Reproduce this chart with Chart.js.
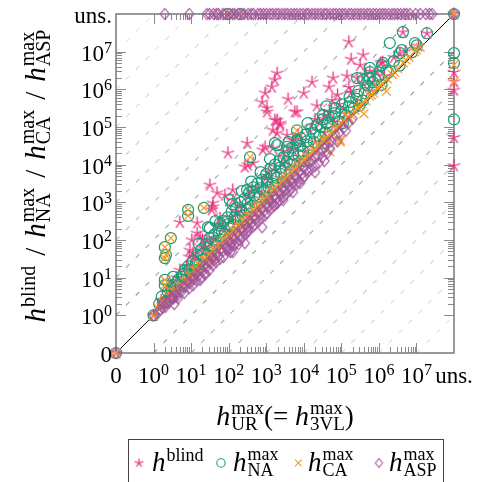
<!DOCTYPE html>
<html><head><meta charset="utf-8">
<script src="https://cdn.jsdelivr.net/npm/chart.js@4/dist/chart.umd.min.js"></script>
<style>html,body{margin:0;padding:0;background:#fff;}#wrap{width:496px;height:482px;}</style>
</head><body><div id="wrap"><canvas id="c" width="496" height="482"></canvas></div>
<script>
// Axis positions are log10 exponents; Z marks h = 0, U marks "uns." (unsolved)
const Z = -1;
const U = 8;
const tickPos  = [Z, 0, 1, 2, 3, 4, 5, 6, 7, U];
const tickBase = ['0','10','10','10','10','10','10','10','10','uns.'];
const tickExp  = ['', '0','1','2','3','4','5','6','7',''];
const refOffsets = [1,2,3,4,5,6,7,8,-1,-2,-3,-4,-5,-6,-7,-8];

// h^blind (y) vs h^max_UR (x), exponents
const blindPts = [
 [Z,Z],[0,0],[U,U],[0.25,0.33],[0.49,0.49],
 [U,6.45],[U,6.2],[U,5.98],[U,4.72],[U,3.97],
 [0.2,0.4],[0.35,0.6],[0.5,0.75],[0.62,1.0],[0.75,0.95],[0.88,1.3],[1.0,1.2],[1.12,1.55],[1.25,1.45],[1.37,1.8],
 [1.48,1.7],[1.6,2.05],[1.72,1.95],[1.83,2.35],[1.95,2.2],[2.07,2.6],[2.18,2.45],[2.3,2.9],[2.42,2.7],[2.53,3.15],
 [2.65,2.95],[2.76,3.4],[2.88,3.2],[3.0,3.65],[3.11,3.4],[3.23,3.95],[3.35,3.65],[3.47,4.15],[3.58,3.9],[3.7,4.4],
 [3.82,4.1],[3.93,4.65],[4.05,4.35],[4.17,4.9],[4.3,4.6],[4.42,5.1],[4.55,4.85],[4.68,5.4],[4.82,5.05],[4.95,5.6],
 [5.1,5.35],[5.25,5.9],[5.4,5.6],[5.58,6.15],[5.75,5.95],[5.95,6.45],[6.15,6.35],[6.4,6.85],[6.7,7.0],[7.05,7.15],
 [0.57,0.61],[1.06,1.13],[1.58,1.62],[2.03,2.11],[2.56,2.6],[3.07,3.14],[3.53,3.6],[4.06,4.11],[4.57,4.62],[5.03,5.12],
 [0.4,0.8],[0.7,1.2],[0.95,1.55],[1.3,2.0],[1.75,2.4],[2.2,2.75],[2.6,3.3],[3.05,3.8],[3.45,4.35],[3.85,4.8],
 [4.3,5.2],[4.75,5.7],[5.2,6.05],[5.65,6.4],[6.05,6.7],
 [1.98,4.31],[2.49,4.57],[2.51,3.99],[2.43,3.94],[2.91,4.39],[1.5,3.46],[1.69,3.25],[1.58,2.98],[1.55,2.8],[2.11,3.33],
 [2.11,3.06],[1.9,3.19],[0.7,2.47],[1.16,2.18],[1.24,2.08],[1.02,2.0],[1.42,2.0],[0.97,1.73],[1.16,2.45],[3.18,4.44],
 [1.05,1.65],[1.29,1.79],[1.58,2.88],[1.77,2.58],
 [3.29,6.43],[3.23,6.25],[3.15,6.06],[2.97,5.9],[2.89,5.66],[3.02,5.5],[3.29,5.18],[3.58,5.74],[3.37,5.1],[3.18,4.92],
 [2.97,4.47],[3.82,5.4],[3.02,5.4],[3.23,5.18],[3.37,5.05],[2.65,4.04],[3.29,4.84],[3.55,4.78],[3.71,4.65],
 [5.2,7.26],[5.26,6.8],[5.58,6.91],[5.5,6.64],[5.15,6.35],[4.78,6.3],[4.67,6.06],[4.22,6.19],[4.0,5.9],[3.76,5.4],
 [4.35,5.56],[6.64,7.52],[7.28,7.49],[6.1,6.72],[5.76,6.48],[5.42,6.3],[6.56,6.96],[5.84,6.19],[4.55,5.3],[4.9,5.85]
];

// h^max_NA (y) vs h^max_UR (x)
const naPts = [
 [Z,Z],[0,0],[U,U],[0.25,0.33],[0.49,0.49],
 [U,6.96],[U,6.7],[U,5.2],[1.98,U],[2.3,U],
 [0.15,0.3],[0.22,0.5],[0.3,0.35],[0.38,0.62],[0.45,0.5],[0.52,0.8],[0.58,0.65],[0.66,0.95],[0.72,0.8],[0.8,1.1],
 [0.86,0.95],[0.92,1.3],[0.98,1.1],[1.05,1.45],[1.1,1.2],[1.16,1.6],[1.22,1.35],[1.28,1.75],[1.33,1.5],[1.4,1.9],
 [1.45,1.6],[1.5,2.05],[1.56,1.75],[1.62,2.15],[1.68,1.85],[1.74,2.3],[1.8,2.0],[1.85,2.5],[1.9,2.15],[1.97,2.6],
 [2.02,2.3],[2.08,2.75],[2.14,2.4],[2.2,2.85],[2.25,2.55],[2.31,3.0],[2.37,2.65],[2.43,3.1],[2.48,2.8],[2.54,3.25],
 [2.6,2.9],[2.66,3.4],[2.71,3.0],[2.77,3.5],[2.83,3.15],[2.89,3.6],[2.94,3.3],[3.0,3.75],[3.06,3.4],[3.12,3.9],
 [3.17,3.5],[3.23,4.0],[3.29,3.65],[3.35,4.1],[3.4,3.75],[3.46,4.2],[3.52,3.9],[3.58,4.35],[3.63,4.0],[3.69,4.45],
 [3.75,4.1],[3.81,4.6],[3.86,4.25],[3.92,4.7],[3.98,4.35],[4.05,4.8],[4.12,4.45],[4.2,4.95],[4.27,4.6],[4.35,5.05],
 [4.42,4.75],[4.5,5.2],[4.58,4.85],[4.66,5.3],[4.75,5.0],[4.84,5.5],[4.93,5.15],[5.02,5.6],[5.12,5.3],[5.22,5.8],
 [5.33,5.5],[5.45,5.95],[5.57,5.7],[5.7,6.1],[5.85,6.0],[6.0,6.35],[6.2,6.5],[6.4,6.75],
 [0.47,0.53],[1.02,1.06],[1.53,1.57],[2.04,2.09],[2.46,2.52],[3.03,3.12],[3.48,3.55],[4.02,4.09],[4.53,4.57],[5.04,5.1],
 [5.48,5.57],[6.07,6.12],[6.55,6.63],[6.88,6.98],
 [0.62,0.88],[0.76,1.02],[0.95,1.22],[1.13,1.4],[1.3,1.62],[1.47,1.82],[1.64,1.98],[1.82,2.22],[1.99,2.42],[2.16,2.6],
 [2.33,2.78],[2.5,2.97],[2.68,3.18],[2.85,3.38],[3.02,3.52],[3.2,3.72],[3.37,3.92],[3.55,4.08],[3.72,4.28],[3.9,4.5],
 [4.08,4.62],[4.26,4.84],[4.45,5.0],[4.63,5.12],[4.82,5.28],[5.0,5.4],[5.2,5.55],[5.4,5.75],[5.62,5.9],[5.9,6.25],
 [6.25,6.45],[1.2,1.9],[1.65,2.5],[2.1,2.95],[2.6,3.55],[3.1,4.15],[3.6,4.6],[4.1,5.1],[4.6,5.55],[2.35,3.3],[2.85,3.8],
 [0.3,1.81],[0.3,1.52],[0.33,1.6],[0.46,2.05],[0.3,0.94],[0.3,0.8],[0.92,2.8],[0.92,2.64],[1.34,2.85],[2.57,4.2],
 [0.52,1.02],[0.84,1.2],[1.45,2.34],[1.77,2.45],[3.23,4.57],[3.82,4.91],[2.03,3.06],[1.5,2.32],[2.49,3.33],[3.02,3.6],
 [3.29,4.52],[3.55,4.47],[3.82,4.65],
 [6.64,7.52],[7.28,7.49],[6.29,7.23],[7.01,7.17],[6.56,6.96],[6.11,6.7],[5.76,6.57],[5.42,6.3],[5.76,6.3],[4.51,5.32],
 [4.83,5.37],[4.62,5.1],[5.76,6.46],[6.08,6.64],[5.84,6.19],[5.58,6.25],[6.61,7.04],[6.96,7.23],[5.42,5.85],[5.23,5.66]
];

// h^max_CA (y) vs h^max_UR (x)
const caPts = [
 [Z,Z],[0,0],[U,U],[0.25,0.33],[0.49,0.49],
 [U,6.65],[U,6.2],[1.98,U],[2.3,U],
 [0.13,0.18],[0.2,0.22],[0.27,0.35],[0.34,0.38],[0.41,0.5],[0.48,0.52],[0.55,0.62],[0.61,0.66],[0.68,0.78],[0.75,0.8],
 [0.82,0.9],[0.88,0.95],[0.95,1.06],[1.01,1.08],[1.08,1.2],[1.14,1.2],[1.21,1.33],[1.27,1.35],[1.34,1.45],[1.4,1.47],
 [1.47,1.6],[1.53,1.6],[1.6,1.73],[1.66,1.72],[1.73,1.86],[1.79,1.85],[1.86,1.98],[1.92,1.98],[1.99,2.1],[2.05,2.12],
 [2.12,2.25],[2.18,2.24],[2.25,2.37],[2.31,2.38],[2.38,2.5],[2.44,2.5],[2.51,2.62],[2.57,2.64],[2.64,2.76],[2.7,2.77],
 [2.77,2.9],[2.83,2.9],[2.9,3.02],[2.96,3.04],[3.03,3.15],[3.09,3.16],[3.16,3.28],[3.22,3.3],[3.29,3.4],[3.35,3.43],
 [3.42,3.55],[3.48,3.56],[3.55,3.67],[3.61,3.7],[3.68,3.8],[3.74,3.83],[3.81,3.93],[3.87,3.96],[3.94,4.06],[4.0,4.1],
 [4.08,4.2],[4.15,4.22],[4.23,4.35],[4.3,4.36],[4.38,4.5],[4.45,4.52],[4.53,4.65],[4.6,4.66],[4.68,4.8],[4.76,4.82],
 [4.84,4.95],[4.92,4.98],[5.0,5.1],[5.09,5.14],[5.18,5.28],[5.27,5.3],[5.36,5.45],[5.45,5.5],[5.55,5.62],[5.65,5.7],
 [5.75,5.82],[5.86,5.9],[5.97,6.05],[6.1,6.15],[6.22,6.28],[6.35,6.4],[6.5,6.55],[6.65,6.7],[6.8,6.85],[6.95,7.0],[7.1,7.12],
 [0.58,0.6],[0.9,0.9],[1.17,1.25],[1.44,1.5],[1.7,1.78],[1.96,2.03],[2.22,2.3],[2.48,2.55],[2.74,2.82],[3.0,3.07],
 [3.26,3.34],[3.52,3.6],[3.78,3.86],[4.04,4.13],[4.33,4.4],[4.62,4.7],[4.9,5.0],[5.2,5.22],[5.5,5.55],[5.8,5.85],
 [6.05,6.1],[6.42,6.45],[6.72,6.78],[7.0,7.05],
 [4.97,4.65],[4.7,4.34],[4.97,4.6],[5.6,5.35],[6.2,5.95],
 [0.3,1.81],[0.3,1.52],[0.33,1.6],[0.46,2.05],[0.3,0.94],[0.3,0.8],[0.92,2.8],[0.92,2.64],[1.34,2.85],[2.57,4.2],[3.82,4.91]
];

// h^max_ASP (y) vs h^max_UR (x)
const aspPts = [
 [Z,Z],[0,0],[U,U],[0.25,0.33],[0.49,0.49],
 [0.3,U],[0.95,U],[1.42,U],[1.49,U],[1.6,U],[1.68,U],[1.73,U],[1.85,U],[1.91,U],[2.02,U],[2.1,U],[2.16,U],[2.27,U],
 [2.35,U],[2.41,U],[2.52,U],[2.6,U],[2.66,U],[2.78,U],[2.85,U],[2.93,U],[3.01,U],[3.1,U],[3.17,U],[3.26,U],[3.33,U],
 [3.42,U],[3.5,U],[3.57,U],[3.66,U],[3.74,U],[3.81,U],[3.9,U],[3.98,U],[4.07,U],[4.13,U],[4.22,U],[4.3,U],[4.38,U],
 [4.46,U],[4.55,U],[4.61,U],[4.7,U],[4.79,U],[4.86,U],[4.95,U],[5.03,U],[5.1,U],[5.2,U],[5.27,U],[5.36,U],[5.44,U],
 [5.52,U],[5.6,U],[5.69,U],[5.76,U],[5.85,U],[5.93,U],[6.02,U],[6.1,U],[6.17,U],[6.26,U],[6.35,U],[6.42,U],[6.5,U],
 [6.58,U],[6.67,U],[6.74,U],[6.83,U],[6.98,U],[7.1,U],[7.25,U],[7.35,U],[7.42,U],
 [0.12,0.08],[0.18,0.15],[0.24,0.2],[0.31,0.22],[0.36,0.33],[0.42,0.35],[0.47,0.44],[0.53,0.45],[0.58,0.55],[0.63,0.52],
 [0.69,0.66],[0.74,0.63],[0.79,0.75],[0.86,0.77],[0.91,0.88],[0.97,0.86],[1.03,0.98],[1.08,0.96],[1.13,1.09],[1.19,1.05],
 [1.24,1.2],[1.3,1.18],[1.34,1.3],[1.41,1.27],[1.46,1.41],[1.52,1.4],[1.57,1.52],[1.62,1.47],[1.68,1.63],[1.73,1.58],
 [1.79,1.74],[1.84,1.7],[1.9,1.85],[1.95,1.8],[2.01,1.96],[2.06,1.9],[2.12,2.07],[2.17,2.01],[2.23,2.18],[2.28,2.12],
 [2.34,2.28],[2.39,2.22],[2.45,2.4],[2.5,2.33],[2.56,2.5],[2.61,2.45],[2.67,2.61],[2.72,2.55],[2.78,2.72],[2.83,2.66],
 [2.89,2.83],[2.94,2.77],[3.0,2.94],[3.05,2.88],[3.11,3.05],[3.16,2.98],[3.22,3.16],[3.27,3.1],[3.33,3.27],[3.38,3.2],
 [3.44,3.37],[3.49,3.31],[3.55,3.48],[3.6,3.42],[3.66,3.59],[3.71,3.52],[3.77,3.7],[3.82,3.63],[3.88,3.8],[3.94,3.74],
 [4.0,3.92],[4.07,3.86],[4.14,4.05],[4.22,4.1],[4.3,4.21],[4.38,4.25],[4.47,4.38],[4.55,4.45],[4.66,4.58],[4.74,4.62],
 [4.85,4.77],[4.95,4.85],[5.06,4.98],[5.18,5.1],[5.3,5.22],
 [0.55,0.3],[0.82,0.6],[1.05,0.8],[1.27,1.0],[1.48,1.2],[1.66,1.41],[1.86,1.55],[2.03,1.76],[2.2,1.92],[2.37,2.08],
 [2.53,2.26],[2.7,2.41],[2.86,2.58],[3.02,2.72],[3.19,2.9],[3.35,3.06],[3.52,3.21],[3.68,3.4],[3.85,3.55],[4.02,3.7],
 [4.2,3.88],[4.4,4.05],[4.62,4.3],
 [0.65,0.45],[0.95,0.72],[1.15,0.92],[1.37,1.12],[1.58,1.33],[1.77,1.5],[1.97,1.72],[2.14,1.87],[2.3,2.0],[2.47,2.17],
 [2.63,2.34],[2.8,2.5],[2.97,2.65],[3.13,2.83],[3.3,2.98],[3.46,3.14],[3.62,3.3],[3.8,3.47],[3.97,3.63],[4.12,3.82],
 [4.3,3.97],[4.5,4.2],[4.7,4.42],[4.9,4.62],[5.12,4.9],
 [1.24,0.94],[1.38,1.09],[1.98,1.79],[2.11,1.68],[2.26,1.89],[2.05,1.68],[2.43,1.92],[2.5,2.23],[2.89,2.34],[3.23,2.93],
 [3.45,3.06],[3.71,3.27],[3.9,3.51],[4.3,3.8],[4.55,4.1]
];

const COL_BLIND = '#e7297a', COL_NA = '#1b9e77', COL_CA = '#f59a23', COL_ASP = '#a2529a';

function mkStar(color, r, lw) {
  const s = Math.ceil(2 * r + 4), c = document.createElement('canvas');
  c.width = s; c.height = s;
  const g = c.getContext('2d'); g.strokeStyle = color; g.lineWidth = lw;
  g.beginPath();
  for (let k = 0; k < 5; k++) {
    const a = -Math.PI / 2 + k * 2 * Math.PI / 5;
    g.moveTo(s / 2, s / 2); g.lineTo(s / 2 + r * Math.cos(a), s / 2 + r * Math.sin(a));
  }
  g.stroke(); return c;
}
function mkDiamond(color, hw, hh, lw) {
  const w = Math.ceil(2 * hw + 3), h = Math.ceil(2 * hh + 3), c = document.createElement('canvas');
  c.width = w; c.height = h;
  const g = c.getContext('2d'); g.strokeStyle = color; g.lineWidth = lw;
  g.beginPath(); g.moveTo(w / 2, h / 2 - hh); g.lineTo(w / 2 + hw, h / 2); g.lineTo(w / 2, h / 2 + hh); g.lineTo(w / 2 - hw, h / 2); g.closePath();
  g.stroke(); return c;
}
const starImg = mkStar(COL_BLIND, 6.5, 1.25);
const diaImg = mkDiamond(COL_ASP, 4.6, 5.5, 1.15);
const starSmall = mkStar(COL_BLIND, 4.5, 1.1);
const diaSmall = mkDiamond(COL_ASP, 3.6, 4.5, 1.05);

const toXY = pts => pts.map(p => ({ x: p[0], y: p[1] }));
const datasets = [];
datasets.push({ label: 'h^max_ASP', data: toXY(aspPts), pointStyle: diaImg, pointRadius: 5, borderColor: COL_ASP, backgroundColor: 'transparent', order: 1, clip: false });
datasets.push({ label: 'h^max_CA', data: toXY(caPts), pointStyle: 'crossRot', pointRadius: 6.3, pointBorderWidth: 1.2, borderColor: COL_CA, backgroundColor: COL_CA, order: 2, clip: false });
datasets.push({ label: 'h^max_NA', data: toXY(naPts), pointStyle: 'circle', pointRadius: 5.5, pointBorderWidth: 1.25, borderColor: COL_NA, backgroundColor: 'transparent', order: 3, clip: false });
datasets.push({ label: 'h^blind', data: toXY(blindPts), pointStyle: starImg, pointRadius: 6, borderColor: COL_BLIND, backgroundColor: 'transparent', order: 4, clip: false });
datasets.push({ type: 'line', label: 'diag', data: [{ x: Z, y: Z }, { x: U, y: U }], borderColor: '#000', borderWidth: 1, pointRadius: 0, fill: false, order: 5 });
const alphas = [0.62, 0.52, 0.44, 0.37, 0.31, 0.26, 0.21, 0.17];
refOffsets.forEach(k => {
  const a = alphas[Math.abs(k) - 1];
  const d = k > 0 ? [{ x: Z, y: Z + k }, { x: U - k, y: U }] : [{ x: Z - k, y: Z }, { x: U, y: U + k }];
  datasets.push({ type: 'line', label: 'ref' + k, data: d, borderColor: 'rgba(105,105,105,' + a + ')', borderWidth: 1.2, borderDash: [5, 9], pointRadius: 0, fill: false, order: 6 });
});

const SERIF = '"Liberation Serif", "Times New Roman", serif';
const TICK = 23, TSCR = 16, SCR = 19;

function drawH(ctx, x, base, sup, sub, hSize, sSize) {
  ctx.font = 'italic ' + hSize + 'px ' + SERIF;
  ctx.fillText('h', x, base);
  x += ctx.measureText('h').width + 1;
  ctx.font = sSize + 'px ' + SERIF;
  let w = 0;
  if (sup) { ctx.fillText(sup, x, base - (sub ? 11 : 10)); w = ctx.measureText(sup).width; }
  if (sub) { ctx.fillText(sub, x, base + 5); w = Math.max(w, ctx.measureText(sub).width); }
  return x + w;
}
function widthH(ctx, sup, sub, hSize, sSize) {
  ctx.font = 'italic ' + hSize + 'px ' + SERIF;
  let w = ctx.measureText('h').width + 1;
  ctx.font = sSize + 'px ' + SERIF;
  let s = 0;
  if (sup) s = ctx.measureText(sup).width;
  if (sub) s = Math.max(s, ctx.measureText(sub).width);
  return w + s;
}
function plainW(ctx, t, size) { ctx.font = size + 'px ' + SERIF; return ctx.measureText(t).width; }

const framePlugin = {
  id: 'frame',
  beforeDatasetsDraw(chart) {
    const { ctx, chartArea: a, scales: { x, y } } = chart;
    ctx.save();
    ctx.strokeStyle = '#8a8a8a'; ctx.lineWidth = 1;
    const majors = tickPos.filter(v => v !== Z && v !== U);
    const drawTick = (v, len) => {
      const px = Math.round(x.getPixelForValue(v)) + 0.5;
      const py = Math.round(y.getPixelForValue(v)) + 0.5;
      ctx.beginPath();
      ctx.moveTo(px, a.bottom); ctx.lineTo(px, a.bottom - len);
      ctx.moveTo(px, a.top); ctx.lineTo(px, a.top + len);
      ctx.moveTo(a.left, py); ctx.lineTo(a.left + len, py);
      ctx.moveTo(a.right, py); ctx.lineTo(a.right - len, py);
      ctx.stroke();
    };
    majors.forEach(v => drawTick(v, 10));
    majors.slice(0, -1).forEach(v => { for (let m = 2; m <= 9; m++) drawTick(v + Math.log10(m), 6); });
    ctx.strokeStyle = '#808080'; ctx.lineWidth = 1.6;
    ctx.strokeRect(a.left, a.top, a.right - a.left, a.bottom - a.top);
    ctx.restore();
  }
};

const textPlugin = {
  id: 'texts',
  afterDraw(chart) {
    const { ctx, chartArea: a, scales: { x, y } } = chart;
    ctx.save();
    ctx.fillStyle = '#000'; ctx.textBaseline = 'alphabetic'; ctx.textAlign = 'left';
    // tick labels
    tickPos.forEach((v, i) => {
      const wb = plainW(ctx, tickBase[i], TICK), we = tickExp[i] ? plainW(ctx, tickExp[i], TSCR) : 0;
      const tot = wb + we;
      let px = x.getPixelForValue(v) - tot / 2;
      ctx.font = TICK + 'px ' + SERIF; ctx.fillText(tickBase[i], px, 383);
      if (we) { ctx.font = TSCR + 'px ' + SERIF; ctx.fillText(tickExp[i], px + wb, 375); }
      const py = y.getPixelForValue(v) + 9;
      px = 112 - tot;
      ctx.font = TICK + 'px ' + SERIF; ctx.fillText(tickBase[i], px, py);
      if (we) { ctx.font = TSCR + 'px ' + SERIF; ctx.fillText(tickExp[i], px + wb, py - 8); }
    });
    // x title
    {
      const HS = 28, PS = 27;
      const w1 = widthH(ctx, 'max', 'UR', HS, SCR), w2 = plainW(ctx, '(= ', PS), w3 = widthH(ctx, 'max', '3VL', HS, SCR), w4 = plainW(ctx, ')', PS);
      let cx = (a.left + a.right) / 2 - (w1 + w2 + w3 + w4) / 2;
      const b = 425;
      cx = drawH(ctx, cx, b, 'max', 'UR', HS, SCR);
      ctx.font = PS + 'px ' + SERIF; ctx.fillText('(= ', cx, b); cx += w2;
      cx = drawH(ctx, cx, b, 'max', '3VL', HS, SCR);
      ctx.font = PS + 'px ' + SERIF; ctx.fillText(')', cx, b);
    }
    // y title (rotated)
    {
      const parts = [['blind', null], ['max', 'NA'], ['max', 'CA'], ['max', 'ASP']];
      const YS = 29, YSC = 20, GAP = 10;
      const sepW = plainW(ctx, '/', YS) + 2 * GAP;
      let tot = 0;
      parts.forEach((p, i) => { tot += widthH(ctx, p[0], p[1], YS, YSC); if (i < 3) tot += sepW; });
      ctx.translate(45, 176); ctx.rotate(-Math.PI / 2);
      let cx = -tot / 2;
      parts.forEach((p, i) => {
        cx = drawH(ctx, cx, 0, p[0], p[1], YS, YSC);
        if (i < 3) { ctx.font = YS + 'px ' + SERIF; ctx.fillText('/', cx + GAP, 0); cx += sepW; }
      });
      ctx.setTransform(1, 0, 0, 1, 0, 0);
    }
    // legend
    ctx.strokeStyle = '#444'; ctx.lineWidth = 1;
    ctx.strokeRect(128.5, 439.5, 315, 60);
    const ly = 463, lb = 471;
    ctx.drawImage(starSmall, 139 - starSmall.width / 2, ly - starSmall.height / 2);
    drawH(ctx, 152, lb, 'blind', null, 27, 18);
    ctx.strokeStyle = COL_NA; ctx.lineWidth = 1.1;
    ctx.beginPath(); ctx.arc(221, ly, 4.2, 0, Math.PI * 2); ctx.stroke();
    drawH(ctx, 233, lb, 'max', 'NA', 27, 18);
    ctx.strokeStyle = COL_CA; ctx.lineWidth = 1.1;
    ctx.beginPath(); ctx.moveTo(295, ly - 3.3); ctx.lineTo(301.6, ly + 3.3); ctx.moveTo(301.6, ly - 3.3); ctx.lineTo(295, ly + 3.3); ctx.stroke();
    drawH(ctx, 308, lb, 'max', 'CA', 27, 18);
    ctx.drawImage(diaSmall, 379 - diaSmall.width / 2, ly - diaSmall.height / 2);
    drawH(ctx, 389, lb, 'max', 'ASP', 27, 18);
    ctx.restore();
  }
};

new Chart(document.getElementById('c'), {
  type: 'scatter',
  data: { datasets },
  options: {
    responsive: false, animation: false, events: [],
    layout: { padding: { left: 116, right: 42, top: 14, bottom: 129 } },
    scales: {
      x: { type: 'linear', min: Z, max: U, display: false },
      y: { type: 'linear', min: Z, max: U, display: false }
    },
    plugins: { legend: { display: false }, tooltip: { enabled: false } }
  },
  plugins: [framePlugin, textPlugin]
});
</script></body></html>
